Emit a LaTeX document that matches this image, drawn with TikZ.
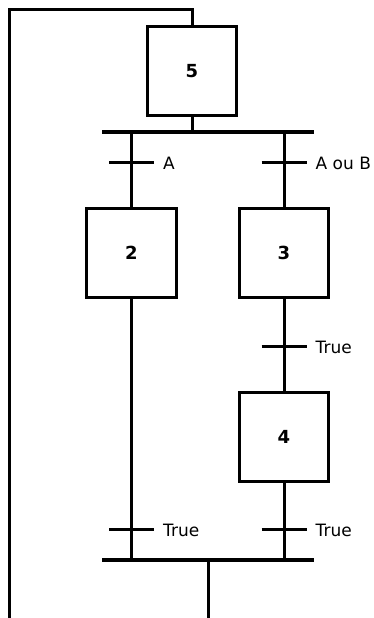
\documentclass[tikz,border=0pt]{standalone}
\usepackage{fontspec}
\setmainfont{DejaVu Sans}
\usetikzlibrary{calc}
\begin{document}
\begin{tikzpicture}[x=1pt,y=-1pt,
  stepbox/.style={draw,line width=3pt,minimum width=89.5pt,minimum height=89pt,inner sep=0pt,font=\fontsize{18}{21}\selectfont\bfseries},
  bar/.style={fill=black,draw=none,minimum width=212pt,minimum height=4pt,inner sep=0pt},
  link/.style={line width=3pt},
  tick/.style={line width=3pt},
  lab/.style={anchor=west,inner sep=0pt,font=\fontsize{17}{20}\selectfont}]
\useasboundingbox (0,0) rectangle (374,618);
\node[stepbox] (s5) at (192,71) {5};
\node[bar] (bar1) at (208,132) {};
\node[stepbox] (s2) at (131.5,253) {2};
\node[stepbox] (s3) at (284,253) {3};
\node[stepbox] (s4) at (284,437) {4};
\node[bar] (bar2) at (208,560) {};
\coordinate (tl) at (9.5,10);
\coordinate (bl) at (9.5,618);
\coordinate (bo) at (208,618);
\coordinate (t1) at (131.5,162);
\coordinate (t2) at (284,162);
\coordinate (t3) at (284,346);
\coordinate (t4) at (131.5,529);
\coordinate (t5) at (284,529);
% loop back
\draw[link] (bl) -- (tl) -| (s5.north);
\draw[link] (s5.south) -- (s5.south |- bar1.north);
\draw[link] (bar2.south) -- (bo);
% branches
\draw[link] (s2 |- bar1.south) -- (s2.north);
\draw[link] (s3 |- bar1.south) -- (s3.north);
\draw[link] (s3.south) -- (s4.north);
\draw[link] (s2.south) -- (s2 |- bar2.north);
\draw[link] (s4.south) -- (s4 |- bar2.north);
% transitions
\foreach \t/\l in {t1/A,t2/A ou B,t3/True,t4/True,t5/True}{
  \draw[tick] ($(\t)+(-22.5,0)$) -- ($(\t)+(22.5,0)$);
  \node[lab] at ($(\t)+(31.5,1)$) {\l};
}
\end{tikzpicture}
\end{document}
